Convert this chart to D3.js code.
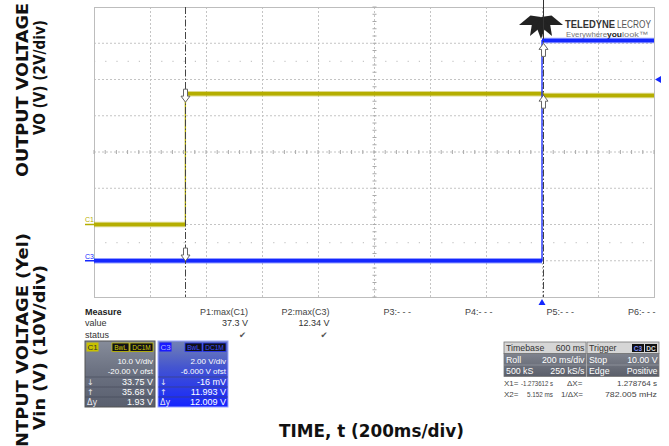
<!DOCTYPE html>
<html><head><meta charset="utf-8">
<script src="https://cdn.jsdelivr.net/npm/d3@7"></script>
<style>body{margin:0;background:#fff}svg{display:block}</style>
</head><body>
<svg id="c" width="669" height="446"></svg>
<script>
// ---------- data ----------
const timeTicks = [-1.6,-1.4,-1.2,-1.0,-0.8,-0.6,-0.4,-0.2,0.0,0.2,0.4]; // s, 200 ms/div
const c1Ticks = [-20,-10,0,10,20,30,40,50,60];   // V, C1 10 V/div, -20 V ofst
const refLevelsC1 = [45,-5];
const c1Edges = [-1.6,-1.2736,0.005,0.4];
const c1Levels = [0.0,36.1,35.6];
const c3Edges = [-1.6,0.0,0.4];
const c3Levels = [0.0,12.15];
const cursorTimes = [-1.273612,0.005152];
const cursorC1 = [33.75,35.68];
const cursorC3 = [-0.016,11.993];
const triggerLevelC3 = 10.0;
const triggerTime = 0.0;
const measureHeads = ["P1:max(C1)","P2:max(C3)","P3:- - -","P4:- - -","P5:- - -","P6:- - -"];
const measureValues = ["37.3 V","12.34 V","","","",""];
const measureStatus = ["\u2714","\u2714","","","",""];
const c1Info = ["10.0 V/div","-20.00 V ofst","33.75 V","35.68 V","1.93 V"];
const c3Info = ["2.00 V/div","-6.000 V ofst","-16 mV","11.993 V","12.009 V"];
const tbRows = [["Timebase","600 ms"],["Roll","200 ms/div"],["500 kS","250 kS/s"]];
const trRows = [["Trigger",""],["Stop","10.00 V"],["Edge","Positive"]];
const readRow1 = ["X1=","-1.273612 s","\u0394X=","1.278764 s"];
const readRow2 = ["X2=","5.152 ms","1/\u0394X=","782.005 mHz"];

// ---------- setup ----------
const svg = d3.select("#c");
const x = d3.scaleLinear().domain([-1.6,0.4]).range([94,654]);
const yC1 = d3.scaleLinear().domain([-20,60]).range([297,7]);
const yC3 = d3.scaleLinear().domain([-2,14]).range([297,7]);
const L = x.range()[0], R = x.range()[1], B = yC1.range()[0], T = yC1.range()[1];
const YEL = "#b5ae00", BLU = "#1428ff", GRID = "#c4c4c4";
const SANS = "'Liberation Sans', Arial, sans-serif";

function txt(g, px, py, s, o) {
  o = o || {};
  const t = g.append("text").attr("x", px).attr("y", py).text(s)
    .attr("font-family", o.ff || SANS).attr("font-size", o.fs || 9)
    .attr("fill", o.fill || "#333").attr("text-anchor", o.anchor || "start");
  if (o.fw) t.attr("font-weight", o.fw);
  if (o.len) t.attr("textLength", o.len).attr("lengthAdjust", "spacingAndGlyphs");
  return t;
}

// ---------- grid ----------
const grid = svg.append("g");
grid.selectAll("line.v").data(timeTicks.slice(1,-1)).join("line").attr("class","v")
  .attr("x1", d => Math.round(x(d)) + 0.5).attr("x2", d => Math.round(x(d)) + 0.5)
  .attr("y1", T).attr("y2", B).attr("stroke", GRID).attr("stroke-dasharray", "2,2");
grid.selectAll("line.h").data(c1Ticks.slice(1,-1)).join("line").attr("class","h")
  .attr("x1", L).attr("x2", R).attr("y1", d => yC1(d)).attr("y2", d => yC1(d))
  .attr("stroke", GRID).attr("stroke-dasharray", "2,2");
grid.selectAll("line.r").data(refLevelsC1).join("line").attr("class","r")
  .attr("x1", L).attr("x2", R).attr("y1", d => yC1(d)).attr("y2", d => yC1(d))
  .attr("stroke", "#c8c8c8").attr("stroke-width", 1.2).attr("stroke-dasharray", "1.2,10");
grid.append("rect").attr("x", L + 0.5).attr("y", T + 0.5).attr("width", R - L).attr("height", B - T)
  .attr("fill", "none").attr("stroke", "#bdbdbd");
const cx0 = Math.round(x(timeTicks[5])) + 0.5, cy0 = yC1(c1Ticks[4]);
grid.selectAll("line.mx").data(d3.range(-1.6, 0.4001, 0.04)).join("line").attr("class","mx")
  .attr("x1", d => x(d)).attr("x2", d => x(d)).attr("y1", cy0 - 2).attr("y2", cy0 + 2)
  .attr("stroke", "#aaa");
grid.selectAll("line.my").data(d3.range(-20, 60.001, 2)).join("line").attr("class","my")
  .attr("x1", cx0 - 2).attr("x2", cx0 + 2).attr("y1", d => yC1(d)).attr("y2", d => yC1(d))
  .attr("stroke", "#aaa");

// ---------- logo ----------
const logo = svg.append("g");
const lc = [541, 17];
const tips = [[519,25],[530,36],[541,39],[552,36],[563,25]];
tips.forEach(tp => {
  const dx = tp[0]-lc[0], dy = tp[1]-lc[1], len = Math.hypot(dx,dy);
  const mx = lc[0]+0.4*dx, my = lc[1]+0.4*dy, px = -dy/len*5, py = dx/len*5;
  logo.append("path").attr("d", `M${lc[0]},${lc[1]}L${mx+px},${my+py}L${tp[0]},${tp[1]}L${mx-px},${my-py}Z`)
    .attr("fill", "#222");
});
txt(logo, 565, 27.5, "TELEDYNE", {fs: 10, fill: "#333", fw: "bold", len: 50});
txt(logo, 617, 27.5, "LECROY", {fs: 10, fill: "#555", len: 34});
txt(logo, 566, 37, "Everywhere", {fs: 8, fill: "#777", len: 41});
txt(logo, 607, 37, "you", {fs: 8, fill: "#222", fw: "bold", len: 15});
txt(logo, 622, 37, "look\u2122", {fs: 8, fill: "#777", len: 26});

// ---------- traces ----------
function drawTrace(edges, levels, ys, col, w) {
  const pts = edges.map((t, i) => ({t, v: levels[Math.min(i, levels.length - 1)]}));
  const line = d3.line().x(d => x(d.t)).y(d => ys(d.v)).curve(d3.curveStepAfter);
  const g = svg.append("g");
  g.append("path").attr("d", line(pts)).attr("fill", "none").attr("stroke", col).attr("stroke-width", 1.3);
  levels.forEach((v, i) => {
    g.append("line").attr("x1", x(edges[i])).attr("x2", x(edges[i+1]))
      .attr("y1", ys(v)).attr("y2", ys(v)).attr("stroke", col).attr("stroke-opacity", 0.45).attr("stroke-width", w + 2);
    g.append("line").attr("x1", x(edges[i])).attr("x2", x(edges[i+1]))
      .attr("y1", ys(v)).attr("y2", ys(v)).attr("stroke", col).attr("stroke-width", w);
  });
}
drawTrace(c1Edges, c1Levels, yC1, YEL, 3.5);
drawTrace(c3Edges, c3Levels, yC3, BLU, 3.5);

txt(svg, 85, 222, "C1", {fs: 7, fill: YEL});
svg.append("line").attr("x1", 85).attr("x2", 94).attr("y1", yC1(0)).attr("y2", yC1(0)).attr("stroke", YEL).attr("stroke-width", 1.5);
txt(svg, 85, 258.5, "C3", {fs: 7, fill: BLU});
svg.append("line").attr("x1", 85).attr("x2", 94).attr("y1", yC3(0)).attr("y2", yC3(0)).attr("stroke", BLU).attr("stroke-width", 1.5);

// ---------- cursors ----------
const cur = svg.append("g");
cursorTimes.forEach((t, i) => {
  const cxp = Math.round(x(t)) + 0.5;
  cur.append("line").attr("x1", cxp).attr("x2", cxp).attr("y1", T).attr("y2", B)
    .attr("stroke", "#444").attr("stroke-width", 1).attr("stroke-dasharray", "7,2,1.5,2");
  if (i === 1) cur.append("line").attr("x1", cxp).attr("x2", cxp).attr("y1", 0).attr("y2", yC3(c3Levels[1]) - 2)
    .attr("stroke", "#333").attr("stroke-width", 1);
});
function arrow(cxp, tipY, down) {
  const s = down ? -1 : 1;
  const p = [[cxp, tipY],[cxp-4.5, tipY+s*6],[cxp-2, tipY+s*6],[cxp-2, tipY+s*13],[cxp+2, tipY+s*13],[cxp+2, tipY+s*6],[cxp+4.5, tipY+s*6]];
  cur.append("path").attr("d", "M" + p.map(q => q.join(",")).join("L") + "Z")
    .attr("fill", "#fff").attr("stroke", "#666").attr("stroke-width", 1);
}
arrow(Math.round(x(cursorTimes[0])) + 0.5, yC1(cursorC1[0]), true);
arrow(Math.round(x(cursorTimes[0])) + 0.5, yC3(cursorC3[0]), true);
arrow(Math.round(x(cursorTimes[1])) + 0.5, yC3(cursorC3[1]), false);
arrow(Math.round(x(cursorTimes[1])) + 0.5, yC1(cursorC1[1]), false);

const ty = yC3(triggerLevelC3);
svg.append("path").attr("d", `M655,${ty}L661,${ty-3.5}L661,${ty+3.5}Z`).attr("fill", BLU);
const tx = x(triggerTime);
svg.append("path").attr("d", `M${tx},${B+2}L${tx-3.5},${B+8}L${tx+3.5},${B+8}Z`).attr("fill", BLU);

// ---------- measure table ----------
const mg = svg.append("g");
txt(mg, 85, 314.5, "Measure", {fw: "bold", fill: "#222"});
txt(mg, 85, 326, "value");
txt(mg, 85, 337.5, "status");
measureHeads.forEach((h, i) => {
  const rx = 248 + i * 81.5;
  txt(mg, rx, 314.5, h, {anchor: "end", fill: "#444"});
  if (measureValues[i]) txt(mg, rx, 326, measureValues[i], {anchor: "end"});
  if (measureStatus[i]) txt(mg, rx - 2, 338, measureStatus[i], {anchor: "end", fs: 8.5, fill: "#555", ff: "'DejaVu Sans'"});
});

// ---------- channel boxes ----------
const defs = svg.append("defs");
function grad(id, stops) {
  const g = defs.append("linearGradient").attr("id", id).attr("x1", 0).attr("x2", 0).attr("y1", 0).attr("y2", 1);
  stops.forEach(s => g.append("stop").attr("offset", s[0]).attr("stop-color", s[1]));
}
grad("gC1", [[0, "#868c9a"], [0.45, "#6c7282"], [1, "#595f6e"]]);
grad("gC3", [[0, "#7382b4"], [0.4, "#4455d0"], [1, "#1424ff"]]);
grad("gTB", [[0, "#7f838e"], [1, "#5a5e69"]]);

function chanBox(bx, name, info, bg, labFill, labText, tagStroke, tagText, border) {
  const g = svg.append("g");
  const w = 70, h = 66, by = 341;
  g.append("rect").attr("x", bx).attr("y", by).attr("width", w).attr("height", h).attr("fill", `url(#${bg})`)
    .attr("stroke", border).attr("stroke-width", 1);
  g.append("rect").attr("x", bx + 1.5).attr("y", by + 1.5).attr("width", 12).attr("height", 9).attr("fill", labFill);
  txt(g, bx + 2.5, by + 9.2, name, {fs: 8, fill: labText});
  g.append("rect").attr("x", bx + 27).attr("y", by + 2).attr("width", 17).attr("height", 8.5).attr("fill", "#101018").attr("stroke", tagStroke).attr("stroke-width", 0.8);
  txt(g, bx + 35.5, by + 8.8, "BwL", {fs: 6.5, fill: tagText, anchor: "middle"});
  g.append("rect").attr("x", bx + 45).attr("y", by + 2).attr("width", 23).attr("height", 8.5).attr("fill", "#101018").attr("stroke", tagStroke).attr("stroke-width", 0.8);
  txt(g, bx + 56.5, by + 8.8, "DC1M", {fs: 6.5, fill: tagText, anchor: "middle"});
  txt(g, bx + w - 2, by + 23, info[0], {fs: 8, fill: "#fff", anchor: "end"});
  txt(g, bx + w - 2, by + 33, info[1], {fs: 8, fill: "#fff", anchor: "end"});
  [36, 46, 56].forEach(dy => g.append("line").attr("x1", bx).attr("x2", bx + w).attr("y1", by + dy).attr("y2", by + dy).attr("stroke", "#3c4150").attr("stroke-opacity", 0.5));
  const syms = ["\u2193", "\u2191", "\u0394y"];
  [2, 3, 4].forEach((k, j) => {
    txt(g, bx + 2, by + 44 + j * 10, syms[j], {fs: 8, fill: "#e8e8f0", ff: "'DejaVu Sans'"});
    txt(g, bx + w - 2, by + 44 + j * 10, info[k], {fs: 9, fill: "#fff", anchor: "end"});
  });
}
chanBox(85, "C1", c1Info, "gC1", "#c9c100", "#333", "#c9c100", "#d4cc00", "#555");
chanBox(158, "C3", c3Info, "gC3", "#1a1aff", "#b0b8ff", "#2a3aff", "#4050ff", "#9aa4ff");

// ---------- timebase / trigger ----------
function infoBox(bx, w, rows, tags) {
  const g = svg.append("g");
  const by = 342;
  g.append("rect").attr("x", bx).attr("y", by).attr("width", w).attr("height", 11.5).attr("fill", "#d6d6d6").attr("stroke", "#777").attr("stroke-width", 0.8);
  g.append("rect").attr("x", bx).attr("y", by + 11.5).attr("width", w).attr("height", 23).attr("fill", "url(#gTB)").attr("stroke", "#777").attr("stroke-width", 0.8);
  g.append("line").attr("x1", bx).attr("x2", bx + w).attr("y1", by + 23).attr("y2", by + 23).attr("stroke", "#8a8e98");
  rows.forEach((r, i) => {
    const col = i === 0 ? "#333" : "#fff";
    txt(g, bx + 2, by + 9 + i * 11.5, r[0], {fs: 8.8, fill: col});
    if (r[1]) txt(g, bx + w - 1.5, by + 9 + i * 11.5, r[1], {fs: 8.8, fill: col, anchor: "end"});
  });
  if (tags) tags.forEach((tg, i) => {
    const tx0 = bx + w - 27 + i * 13;
    g.append("rect").attr("x", tx0).attr("y", by + 2).attr("width", 12).attr("height", 8).attr("fill", "#111");
    txt(g, tx0 + 6, by + 8.8, tg, {fs: 6.5, fill: i === 0 ? "#8090ff" : "#ddd", anchor: "middle", fw: "bold"});
  });
}
infoBox(504, 82, tbRows);
infoBox(587, 72, trRows, ["C3", "DC"]);

const rd = svg.append("g");
const rdLens = [[32, 26], [44, 54]];
[readRow1, readRow2].forEach((r, i) => {
  const yy = 385.5 + i * 11;
  txt(rd, 504, yy, r[0], {fs: 8, fill: "#444"});
  txt(rd, 553, yy, r[1], {fs: 8, fill: "#444", anchor: "end", len: rdLens[0][i]});
  txt(rd, i === 0 ? 567 : 561, yy, r[2], {fs: 8, fill: "#444"});
  txt(rd, 657, yy, r[3], {fs: 8, fill: "#444", anchor: "end", len: i === 0 ? 40 : 52});
});

// ---------- titles ----------
const TF = "'DejaVu Sans', sans-serif";
function vtitle(bx, y0, y1, s) {
  svg.append("text").attr("transform", `translate(${bx},${y0}) rotate(-90)`).text(s)
    .attr("font-family", TF).attr("font-weight", "bold").attr("font-size", 15).attr("fill", "#111")
    .attr("textLength", y0 - y1).attr("lengthAdjust", "spacingAndGlyphs");
}
vtitle(27.5, 177, 3, "OUTPUT VOLTAGE");
vtitle(44.5, 135, 20, "VO (V) (2V/div)");
vtitle(27.5, 447, 233, "NTPUT VOLTAGE (Yel)");
vtitle(45, 430, 265, "Vin (V) (10V/div)");
txt(svg, 279, 437, "TIME, t (200ms/div)", {ff: TF, fw: "bold", fs: 18, fill: "#111", len: 185});
</script>
</body></html>
